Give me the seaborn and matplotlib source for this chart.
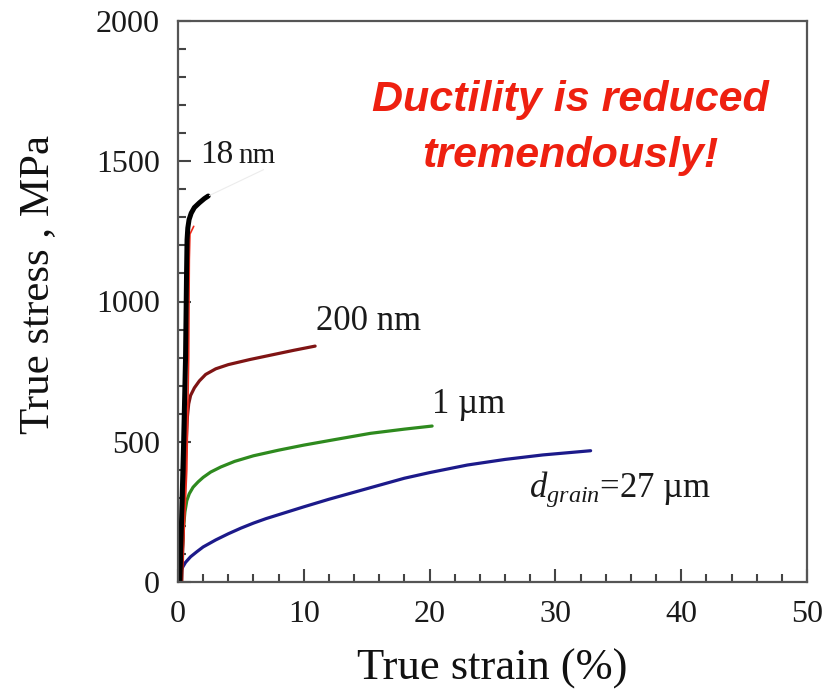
import matplotlib
matplotlib.use("Agg")
import matplotlib.pyplot as plt
import seaborn as sns
import pandas as pd

# ---- data ----
strain_27um = [0.1, 0.2, 0.4, 0.6, 1.0, 1.5, 2.0, 3.0, 4.0, 5.0, 6.0, 7.0, 8.0, 10.0, 12.0, 14.0, 16.0, 18.0, 20.0, 23.0, 26.0, 29.0, 32.8]
stress_27um = [20, 38, 55, 70, 90, 108, 125, 150, 172, 192, 210, 226, 240, 268, 295, 320, 345, 370, 390, 417, 437, 453, 468]

strain_1um = [0.2, 0.35, 0.45, 0.55, 0.7, 0.9, 1.2, 1.6, 2.0, 2.6, 3.4, 4.5, 6.0, 8.0, 10.0, 12.5, 15.3, 18.0, 20.2]
stress_1um = [0, 120, 200, 250, 290, 315, 338, 357, 373, 392, 410, 430, 450, 470, 488, 508, 530, 545, 556]

strain_200nm = [0.3, 0.6, 0.75, 0.85, 1.0, 1.3, 1.7, 2.2, 3.0, 4.0, 5.7, 7.5, 9.2, 10.9]
stress_200nm = [0, 450, 590, 635, 665, 692, 717, 740, 760, 775, 793, 810, 826, 841]

strain_red = [0.3, 0.7, 0.85, 0.9, 0.95, 1.25]
stress_red = [0, 400, 800, 1150, 1240, 1268]

strain_18nm = [0.15, 0.45, 0.6, 0.68, 0.72, 0.78, 0.88, 1.05, 1.3, 1.7, 2.1, 2.4]
stress_18nm = [0, 500, 800, 1100, 1220, 1262, 1292, 1315, 1335, 1352, 1367, 1376]

x_ticks = [0, 10, 20, 30, 40, 50]
y_ticks = [0, 500, 1000, 1500, 2000]

serif = "Liberation Serif"

sns.set_theme(style="white")
plt.rcParams["font.family"] = [serif, "DejaVu Serif"]
plt.rcParams["mathtext.fontset"] = "custom"
plt.rcParams["mathtext.rm"] = serif
plt.rcParams["mathtext.it"] = serif + ":italic"

fig = plt.figure(figsize=(8.36, 6.93), dpi=100)
ax = fig.add_axes([178 / 836, 1 - 582 / 693, (807 - 178) / 836, (582 - 21) / 693])

def draw(xs, ys, color, lw):
    df = pd.DataFrame({"strain": xs, "stress": ys})
    sns.lineplot(data=df, x="strain", y="stress", ax=ax, color=color,
                 linewidth=lw, sort=False, estimator=None,
                 solid_capstyle="round", solid_joinstyle="round")

draw(strain_27um, stress_27um, "#1c1a8a", 2.3)
draw(strain_1um, stress_1um, "#2e8a1e", 2.3)
draw(strain_200nm, stress_200nm, "#7f1414", 2.3)
draw(strain_red, stress_red, "#ee2a1a", 1.2)
draw(strain_18nm, stress_18nm, "black", 3.6)

# faint leader line from 18 nm curve to label
ax.plot([2.5, 6.8], [1378, 1470], color="#ececec", lw=0.8)

ax.set_xlim(0, 50)
ax.set_ylim(0, 2000)
ax.set_xticks(x_ticks)
ax.set_yticks(y_ticks)
ax.set_xticks([v for v in range(0, 51, 2) if v % 10], minor=True)
ax.set_yticks([v for v in range(0, 2001, 100) if v % 500], minor=True)
ax.tick_params(which="both", direction="in", color="#444444", width=1.5,
               top=False, right=False, left=True, bottom=True)
ax.tick_params(which="major", length=9.5, labelsize=23, labelcolor="#1a1a1a", pad=13)
ax.tick_params(which="minor", length=6)
for s in ax.spines.values():
    s.set_color("#555555")
    s.set_linewidth(1.6)

ax.set_xlabel("True strain (%)", fontsize=32, color="#111111", labelpad=14)
ax.set_ylabel("True stress , MPa", fontsize=31, color="#111111")
ax.yaxis.set_label_coords(-0.192, 0.53)

lab_kw = dict(color="#1a1a1a", family=serif)
ax.text(1.75, 1494, "18", fontsize=24, ha="left", va="baseline", **lab_kw)
ax.text(4.77, 1494, "nm", fontsize=21, ha="left", va="baseline", **lab_kw)
ax.text(11.0, 900, "200 nm", fontsize=25, ha="left", va="baseline", **lab_kw)
ax.text(20.2, 603, "1 µm", fontsize=25, ha="left", va="baseline", **lab_kw)
ax.text(27.9, 302, r"$d_{grain}$=27 µm", fontsize=25, ha="left", va="baseline", **lab_kw)

ax.text(31.2, 1619, "Ductility is reduced\ntremendously!", fontsize=31,
        color="#ee2010", fontweight="bold", fontstyle="italic",
        family="Liberation Sans", ha="center", va="center",
        linespacing=1.5, multialignment="center")

fig.savefig("out.png", dpi=100)
